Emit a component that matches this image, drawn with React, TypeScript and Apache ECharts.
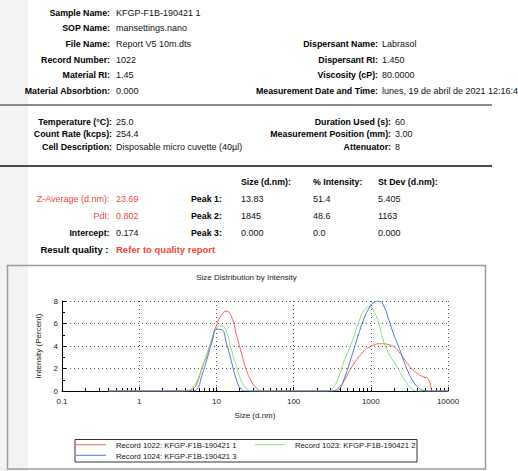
import React, { useEffect, useRef } from 'react';
import * as echarts from 'echarts';

const FONT = '"Liberation Sans", Arial, Helvetica, sans-serif';

// ---- report texts ----
const S1_LEFT_LABELS = ['Sample Name:', 'SOP Name:', 'File Name:', 'Record Number:', 'Material RI:', 'Material Absorbtion:'];
const S1_LEFT_VALUES = ['KFGP-F1B-190421 1', 'mansettings.nano', 'Report V5 10m.dts', '1022', '1.45', '0.000'];
const S1_RIGHT_LABELS = ['Dispersant Name:', 'Dispersant RI:', 'Viscosity (cP):', 'Measurement Date and Time:'];
const S1_RIGHT_VALUES = ['Labrasol', '1.450', '80.0000', 'lunes, 19 de abril de 2021 12:16:47'];

const S2_LEFT_LABELS = ['Temperature (°C):', 'Count Rate (kcps):', 'Cell Description:'];
const S2_LEFT_VALUES = ['25.0', '254.4', 'Disposable micro cuvette (40µl)'];
const S2_RIGHT_LABELS = ['Duration Used (s):', 'Measurement Position (mm):', 'Attenuator:'];
const S2_RIGHT_VALUES = ['60', '3.00', '8'];

const RESULT_LABELS = ['Z-Average (d.nm):', 'PdI:', 'Intercept:'];
const RESULT_VALUES = ['23.69', '0.802', '0.174'];
const PEAK_HEADERS = ['Size (d.nm):', '% Intensity:', 'St Dev (d.nm):'];
const PEAK_LABELS = ['Peak 1:', 'Peak 2:', 'Peak 3:'];
const PEAK_SIZE = ['13.83', '1845', '0.000'];
const PEAK_INTENSITY = ['51.4', '48.6', '0.0'];
const PEAK_STDEV = ['5.405', '1163', '0.000'];
const QUALITY_LABEL = 'Result quality :';
const QUALITY_VALUE = 'Refer to quality report';

// ---- chart data ----
const CHART_TITLE = 'Size Distribution by Intensity';
const X_NAME = 'Size (d.nm)';
const Y_NAME = 'Intensity (Percent)';
const X_TICK_LABELS = ['0.1', '1', '10', '100', '1000', '10000'];
const X_MINOR_TICKS = [
  0.2, 0.3, 0.4, 0.5, 0.6, 0.7, 0.8, 0.9,
  2, 3, 4, 5, 6, 7, 8, 9,
  20, 30, 40, 50, 60, 70, 80, 90,
  200, 300, 400, 500, 600, 700, 800, 900,
  2000, 3000, 4000, 5000, 6000, 7000, 8000, 9000,
];

const SIZES = [
  0.4, 0.4632, 0.5365, 0.6213, 0.7195, 0.8332, 0.9649, 1.117, 1.294, 1.499,
  1.736, 2.01, 2.328, 2.696, 3.122, 3.615, 4.187, 4.849, 5.615, 6.503,
  7.531, 8.721, 10.1, 11.7, 13.54, 15.69, 18.17, 21.04, 24.36, 28.21,
  32.67, 37.84, 43.82, 50.75, 58.77, 68.06, 78.82, 91.28, 105.7, 122.4,
  141.8, 164.2, 190.1, 220.2, 255, 295.3, 342, 396.1, 458.7, 531.2,
  615.1, 712.4, 825, 955.4, 1106, 1281, 1484, 1718, 1990, 2305,
  2669, 3091, 3580, 4145, 4801, 5560, 6439, 7456, 8635, 10000,
];

const RECORD_1022 = [
  0, 0, 0, 0, 0, 0, 0, 0, 0, 0,
  0, 0, 0, 0, 0, 0, 0, 0.15, 0.7, 2.1,
  3.2, 4.6, 5.9, 6.8, 7.1, 6.6, 5.0, 3.4, 1.9, 0.9,
  0.3, 0, 0, 0, 0, 0, 0, 0, 0, 0,
  0, 0, 0, 0, 0, 0, 0.05, 0.4, 1.0, 1.8,
  2.5, 3.1, 3.6, 3.9, 4.1, 4.2, 4.2, 4.1, 3.95, 3.5,
  2.9, 2.3, 1.85, 1.5, 1.25, 1.05, 0, 0, 0, 0,
];

const RECORD_1023 = [
  0, 0, 0, 0, 0, 0, 0, 0, 0, 0,
  0, 0, 0, 0, 0, 0, 0.05, 0.3, 0.9, 2.0,
  3.3, 4.5, 5.6, 5.8, 5.2, 3.6, 2.2, 0.9, 0.25, 0,
  0, 0, 0, 0, 0, 0, 0, 0, 0, 0,
  0, 0, 0, 0, 0, 0.05, 0.5, 1.5, 2.8, 3.8,
  5.0, 6.3, 7.2, 7.5, 7.0, 5.9, 4.3, 3.3, 2.6, 1.9,
  1.1, 0.5, 0.1, 0, 0, 0, 0, 0, 0, 0,
];

const RECORD_1024 = [
  0, 0, 0, 0, 0, 0, 0, 0, 0, 0,
  0, 0, 0, 0, 0, 0, 0, 0, 0.15, 1.4,
  2.8, 4.3, 5.5, 5.45, 4.2, 2.6, 1.0, 0.15, 0, 0,
  0, 0, 0, 0, 0, 0, 0, 0, 0, 0,
  0, 0, 0, 0, 0, 0, 0, 0.2, 1.2, 2.5,
  3.9, 5.3, 6.5, 7.4, 7.9, 8.0, 7.5, 6.3, 5.0, 3.9,
  2.7, 1.6, 0.8, 0.3, 0.05, 0, 0, 0, 0, 0,
];

const SERIES_NAMES = ['Record 1022: KFGP-F1B-190421 1', 'Record 1023: KFGP-F1B-190421 2', 'Record 1024: KFGP-F1B-190421 3'];
const SERIES_VALUES = [RECORD_1022, RECORD_1023, RECORD_1024];
const SERIES_COLORS = ['#f2634f', '#86e36f', '#4a72e6'];

const RED_TEXT = '#f0473a';

type TOpts = { size?: number; bold?: boolean; color?: string; align?: string; extra?: any };
const txt = (x: number, y: number, text: string, o: TOpts = {}) => ({
  type: 'text',
  x,
  y,
  silent: true,
  style: {
    text,
    fontFamily: FONT,
    fontSize: o.size ?? 9,
    fontWeight: o.bold ? 'bold' : 'normal',
    fill: o.color ?? '#111',
    align: o.align ?? 'left',
    verticalAlign: 'middle',
    ...(o.extra || {}),
  },
});

function buildGraphics() {
  const els: any[] = [];
  // light gray strip at the left
  els.push({ type: 'rect', z: -10, silent: true, shape: { x: 0, y: 0, width: 28, height: 471 }, style: { fill: '#f3f3f3' } });
  // separators
  els.push({ type: 'line', silent: true, shape: { x1: 0, y1: 105, x2: 492, y2: 105 }, style: { stroke: '#8a8a8a', lineWidth: 2 } });
  els.push({ type: 'line', silent: true, shape: { x1: 0, y1: 166, x2: 492, y2: 166 }, style: { stroke: '#4a4a4a', lineWidth: 2 } });

  const LB = 8.8;
  // section 1
  S1_LEFT_LABELS.forEach((l, i) => {
    const y = 12.5 + i * 15.7;
    els.push(txt(110, y, l, { bold: true, align: 'right', size: LB, color: '#000' }));
    els.push(txt(116, y, S1_LEFT_VALUES[i]));
  });
  S1_RIGHT_LABELS.forEach((l, i) => {
    const y = 12.5 + (i + 2) * 15.7;
    els.push(txt(378, y, l, { bold: true, align: 'right', size: LB, color: '#000' }));
    const isLast = i === S1_RIGHT_LABELS.length - 1;
    els.push(txt(382, y, S1_RIGHT_VALUES[i], isLast ? { extra: { width: 142, overflow: 'truncate', ellipsis: '' } } : {}));
  });
  // section 2
  S2_LEFT_LABELS.forEach((l, i) => {
    const y = 121.7 + i * 12.4;
    els.push(txt(112, y, l, { bold: true, align: 'right', size: LB, color: '#000' }));
    els.push(txt(116, y, S2_LEFT_VALUES[i]));
  });
  S2_RIGHT_LABELS.forEach((l, i) => {
    const y = 121.7 + i * 12.4;
    els.push(txt(391, y, l, { bold: true, align: 'right', size: LB, color: '#000' }));
    els.push(txt(395, y, S2_RIGHT_VALUES[i]));
  });
  // section 3
  const cols = [241, 313, 378];
  PEAK_HEADERS.forEach((h, i) => els.push(txt(cols[i], 181.7, h, { bold: true, size: LB, color: '#000' })));
  RESULT_LABELS.forEach((l, i) => {
    const y = 199 + i * 17;
    const red = i < 2;
    els.push(txt(109.5, y, l, { bold: !red, align: 'right', size: red ? 9 : LB, color: red ? RED_TEXT : '#000' }));
    els.push(txt(116, y, RESULT_VALUES[i], { color: red ? RED_TEXT : '#111' }));
    els.push(txt(191, y, PEAK_LABELS[i], { bold: true, size: LB, color: '#000' }));
    els.push(txt(cols[0], y, PEAK_SIZE[i]));
    els.push(txt(cols[1], y, PEAK_INTENSITY[i]));
    els.push(txt(cols[2], y, PEAK_STDEV[i]));
  });
  els.push(txt(108.5, 249.5, QUALITY_LABEL, { bold: true, align: 'right', size: 9.5, color: '#000' }));
  els.push(txt(116, 249.5, QUALITY_VALUE, { bold: true, size: 9.5, color: RED_TEXT }));

  // chart frame
  els.push({ type: 'rect', silent: true, shape: { x: 7.5, y: 265.5, width: 478, height: 203.5 }, style: { fill: 'none', stroke: '#9a9a9a', lineWidth: 1.5 } });
  els.push(txt(246.5, 277.5, CHART_TITLE, { size: 8, color: '#222', align: 'center' }));

  // legend
  els.push({ type: 'rect', silent: true, shape: { x: 75, y: 439.5, width: 342, height: 22.5 }, style: { fill: '#fff', stroke: '#333', lineWidth: 1 } });
  const slots = [[76, 444.7], [255, 444.7], [76, 455.3]];
  SERIES_NAMES.forEach((n, i) => {
    const [x, y] = slots[i];
    els.push({ type: 'line', silent: true, shape: { x1: x, y1: y, x2: x + 30, y2: y }, style: { stroke: SERIES_COLORS[i], lineWidth: 1 } });
    els.push(txt(x + 40, y + 1, n, { size: 7.7, color: '#111' }));
  });
  return els;
}

export default function App() {
  const ref = useRef<HTMLDivElement>(null);
  useEffect(() => {
    if (!ref.current) return;
    const chart = echarts.init(ref.current, null, { renderer: 'svg' });
    const axisText = { fontFamily: FONT, fontSize: 8, color: '#222' };
    const dotted = { type: [1, 3] as any, color: '#555', width: 1 };
    const option: any = {
      animation: false,
      backgroundColor: '#ffffff',
      textStyle: { fontFamily: FONT },
      grid: { left: 62, right: 70, top: 301, bottom: 80, containLabel: false },
      xAxis: [
        {
          type: 'log',
          logBase: 10,
          min: 0.1,
          max: 10000,
          name: X_NAME,
          nameLocation: 'middle',
          nameGap: 20,
          nameTextStyle: axisText,
          axisLine: { show: true, onZero: false, lineStyle: { color: '#000', width: 1 } },
          axisTick: { show: true, inside: true, length: 4, lineStyle: { color: '#000' } },
          axisLabel: { ...axisText, margin: 6, formatter: (v: number, i: number) => X_TICK_LABELS[i] ?? String(v) },
          splitLine: { show: true, lineStyle: dotted },
        },
        {
          type: 'log',
          logBase: 10,
          min: 0.1,
          max: 10000,
          position: 'bottom',
          axisLine: { show: false },
          axisLabel: { show: false },
          splitLine: { show: false },
          axisTick: { show: true, inside: true, length: 3, customValues: X_MINOR_TICKS, lineStyle: { color: '#000' } },
        },
      ],
      yAxis: {
        type: 'value',
        min: 0,
        max: 8,
        interval: 2,
        name: Y_NAME,
        nameLocation: 'middle',
        nameGap: 13,
        nameTextStyle: axisText,
        axisLine: { show: true, lineStyle: { color: '#000', width: 1 } },
        axisTick: { show: true, inside: true, length: 4, lineStyle: { color: '#000' } },
        minorTick: { show: true, splitNumber: 2, length: 3, lineStyle: { color: '#000' } },
        axisLabel: { ...axisText, margin: 4 },
        splitLine: { show: true, lineStyle: dotted },
      },
      series: SERIES_NAMES.map((name, k) => ({
        name,
        type: 'line',
        xAxisIndex: 0,
        data: SIZES.map((s, i) => [s, SERIES_VALUES[k][i]]),
        showSymbol: false,
        smooth: 0.5,
        clip: true,
        lineStyle: { color: SERIES_COLORS[k], width: 1 },
        itemStyle: { color: SERIES_COLORS[k] },
        z: 3 + k,
      })),
      graphic: { elements: buildGraphics() },
    };
    chart.setOption(option);
    return () => chart.dispose();
  }, []);
  return (
    <div
      ref={ref}
      style={{ position: 'fixed', left: 0, top: 0, width: 518, height: 471, background: '#fff' }}
    />
  );
}
